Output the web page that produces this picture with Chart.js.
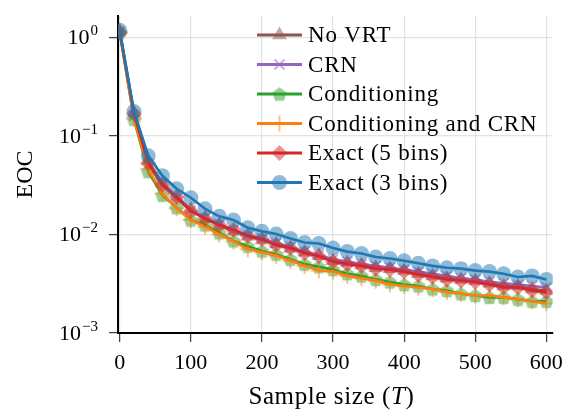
<!DOCTYPE html>
<html>
<head>
<meta charset="utf-8">
<script src="https://cdn.jsdelivr.net/npm/chart.js@4/dist/chart.umd.min.js"></script>
<style>
html, body { margin: 0; padding: 0; background: #fff; }
#wrap { width: 571px; height: 412px; }
</style>
</head>
<body>
<div id="wrap"><canvas id="eoc" width="571" height="412"></canvas></div>
<script>
var sampleSize = [0, 20, 40, 60, 80, 100, 120, 140, 160, 180, 200, 220, 240, 260, 280, 300,
                  320, 340, 360, 380, 400, 420, 440, 460, 480, 500, 520, 540, 560, 580, 600];

var noVrt = [1.16, 0.172, 0.056, 0.033, 0.024, 0.0180, 0.0146, 0.0124, 0.0108, 0.0096, 0.0088,
             0.0080, 0.0072, 0.0066, 0.0061, 0.0054, 0.0052, 0.0049, 0.0046, 0.0045, 0.0043,
             0.0040, 0.0038, 0.0036, 0.0035, 0.0034, 0.0032, 0.0030, 0.0030, 0.0028, 0.0027];
var crn = [1.15, 0.160, 0.052, 0.031, 0.023, 0.0175, 0.0148, 0.0128, 0.0110, 0.0098, 0.0091,
           0.0082, 0.0075, 0.0067, 0.0062, 0.0056, 0.0053, 0.0050, 0.0048, 0.0046, 0.0044,
           0.0042, 0.0040, 0.0038, 0.0036, 0.0035, 0.0033, 0.0032, 0.0031, 0.0030, 0.0029];
var conditioning = [1.13, 0.147, 0.0434, 0.025, 0.0187, 0.0140, 0.0125, 0.0104, 0.0086, 0.0076, 0.0068,
                    0.0063, 0.0056, 0.0050, 0.0047, 0.0044, 0.0040, 0.0038, 0.0035, 0.0033, 0.0031,
                    0.0030, 0.0028, 0.0027, 0.0025, 0.0024, 0.0023, 0.0023, 0.0022, 0.0021, 0.0021];
var condCrn = [1.12, 0.150, 0.046, 0.026, 0.0185, 0.0140, 0.0120, 0.0100, 0.0085, 0.0071, 0.0066,
               0.0061, 0.0054, 0.0048, 0.0043, 0.0042, 0.0038, 0.0036, 0.0034, 0.0031, 0.0030,
               0.0029, 0.0028, 0.0026, 0.0025, 0.0024, 0.0024, 0.0023, 0.0022, 0.0021, 0.0020];
var exact5 = [1.12, 0.168, 0.053, 0.032, 0.024, 0.0172, 0.0145, 0.0125, 0.0112, 0.0097, 0.0090,
              0.0078, 0.0073, 0.0065, 0.0060, 0.0053, 0.0050, 0.0048, 0.0045, 0.0044, 0.0042,
              0.0039, 0.0037, 0.0035, 0.0034, 0.0033, 0.0031, 0.0029, 0.0029, 0.0027, 0.0026];
var exact3 = [1.18, 0.177, 0.063, 0.0394, 0.0291, 0.0236, 0.0182, 0.0153, 0.0140, 0.0117, 0.0108,
              0.0101, 0.0091, 0.0083, 0.0081, 0.0073, 0.0067, 0.0064, 0.0059, 0.0057, 0.0054,
              0.0051, 0.0048, 0.0046, 0.0045, 0.0043, 0.0042, 0.0040, 0.0037, 0.0038, 0.0035];

var seriesNames = ["No VRT", "CRN", "Conditioning", "Conditioning and CRN", "Exact (5 bins)", "Exact (3 bins)"];
var xTicks = [0, 100, 200, 300, 400, 500, 600];
var yTicks = [0.001, 0.01, 0.1, 1];

var serif = '"Liberation Serif", "DejaVu Serif", serif';

// pentagon marker (matplotlib "p"), no built-in style for it
function pentagon(r, fill) {
  var c = document.createElement('canvas');
  c.width = c.height = Math.ceil(r * 2 + 2);
  var g = c.getContext('2d');
  var m = c.width / 2;
  g.beginPath();
  for (var k = 0; k < 5; k++) {
    var a = -Math.PI / 2 + k * 2 * Math.PI / 5;
    var px = m + r * Math.cos(a), py = m + r * Math.sin(a) + 0.8;
    if (k === 0) g.moveTo(px, py); else g.lineTo(px, py);
  }
  g.closePath();
  g.fillStyle = fill;
  g.fill();
  return c;
}

function series(vals) {
  return sampleSize.map(function (x, i) { return { x: x, y: vals[i] }; });
}

var styles = [
  { data: noVrt, color: '#8c564b', fill: 'rgba(140,86,75,0.5)', point: 'triangle', r: 8.5, bw: 0 },
  { data: crn, color: '#9467bd', fill: 'rgba(148,103,189,0.5)', point: 'crossRot', r: 7, bw: 2 },
  { data: conditioning, color: '#2ca02c', fill: 'rgba(44,160,44,0.5)', point: pentagon(7.5, 'rgba(44,160,44,0.5)'), r: 7.5, bw: 0 },
  { data: condCrn, color: '#ff7f0e', fill: 'rgba(255,127,14,0.5)', point: 'cross', r: 8, bw: 2 },
  { data: exact5, color: '#d62728', fill: 'rgba(214,39,40,0.5)', point: 'rectRot', r: 8, bw: 0 },
  { data: exact3, color: '#1f77b4', fill: 'rgba(31,119,180,0.5)', point: 'circle', r: 7.5, bw: 0 }
];

var datasets = styles.map(function (s, i) {
  return {
    label: seriesNames[i],
    data: series(s.data),
    borderColor: s.color,
    borderWidth: 2.6,
    backgroundColor: s.fill,
    pointStyle: s.point,
    pointRadius: s.r,
    pointBackgroundColor: s.fill,
    pointBorderColor: s.fill,
    pointBorderWidth: s.bw,
    tension: 0,
    order: styles.length - i
  };
});

var extras = {
  id: 'extras',
  afterDraw: function (chart) {
    var ctx = chart.ctx, ys = chart.scales.y, area = chart.chartArea;
    ctx.save();
    ctx.fillStyle = '#000';
    ctx.textBaseline = 'alphabetic';

    // y tick labels as 10 with a raised exponent
    yTicks.forEach(function (v) {
      var py = ys.getPixelForValue(v);
      var e = Math.round(Math.log10(v));
      var exp = e < 0 ? '\u2212' + (-e) : String(e);
      ctx.textAlign = 'right';
      ctx.font = '15px ' + serif;
      var ew = ctx.measureText(exp).width;
      ctx.fillText(exp, 98, py - 2);
      ctx.font = '22px ' + serif;
      ctx.fillText('10', 98 - ew - 1, py + 7);
    });

    // x title with italic T
    ctx.letterSpacing = '0.6px';
    var parts = [['Sample size (', ''], ['T', 'italic '], [')', '']];
    var total = 0;
    parts.forEach(function (p) { ctx.font = p[1] + '25px ' + serif; p.push(ctx.measureText(p[0]).width); total += p[2]; });
    var tx = (area.left + area.right) / 2 - 4 - total / 2;
    ctx.textAlign = 'left';
    parts.forEach(function (p) { ctx.font = p[1] + '25px ' + serif; ctx.fillText(p[0], tx, 404); tx += p[2]; });

    // legend: line with marker, then label
    ctx.letterSpacing = '0.8px';
    chart.data.datasets.forEach(function (ds, i) {
      var ry = 35 + i * 29.5;
      ctx.strokeStyle = ds.borderColor;
      ctx.lineWidth = 3;
      ctx.beginPath();
      ctx.moveTo(257, ry);
      ctx.lineTo(302, ry);
      ctx.stroke();
      ctx.fillStyle = ds.pointBackgroundColor;
      ctx.strokeStyle = ds.pointBorderColor;
      ctx.lineWidth = ds.pointBorderWidth;
      Chart.helpers.drawPoint(ctx, {
        pointStyle: ds.pointStyle, radius: ds.pointRadius, rotation: 0, borderWidth: ds.pointBorderWidth
      }, 279.5, ry);
      ctx.fillStyle = '#000';
      ctx.font = '23px ' + serif;
      ctx.textAlign = 'left';
      ctx.textBaseline = 'middle';
      ctx.fillText(ds.label, 308, ry + 1);
    });
    ctx.restore();
  }
};

new Chart(document.getElementById('eoc'), {
  type: 'line',
  data: { datasets: datasets },
  options: {
    responsive: false,
    animation: false,
    devicePixelRatio: 1,
    layout: { padding: { left: 0, top: 16, right: 11, bottom: 0 } },
    plugins: { legend: { display: false }, tooltip: { enabled: false } },
    scales: {
      x: {
        type: 'linear',
        min: -2.5,
        max: 609,
        afterBuildTicks: function (s) { s.ticks = xTicks.map(function (v) { return { value: v }; }); },
        afterFit: function (s) { s.height = 79; },
        ticks: { color: '#000', font: { family: serif, size: 22 }, padding: 8, maxRotation: 0 },
        grid: { color: '#e2e2e2', lineWidth: 1.2, tickColor: '#444', tickWidth: 1.3, tickLength: 9 },
        border: { color: '#000', width: 2 }
      },
      y: {
        type: 'logarithmic',
        min: 0.001,
        max: 1.65,
        afterBuildTicks: function (s) { s.ticks = yTicks.map(function (v) { return { value: v }; }); },
        afterFit: function (s) { s.width = 118; },
        ticks: { display: false },
        grid: { color: '#e2e2e2', lineWidth: 1.2, tickColor: '#444', tickWidth: 1.3, tickLength: 9 },
        border: { color: '#000', width: 2 },
        title: { display: true, text: 'EOC', color: '#000', font: { family: serif, size: 24 }, padding: { top: 11, bottom: 0 } }
      }
    }
  },
  plugins: [extras]
});
</script>
</body>
</html>
